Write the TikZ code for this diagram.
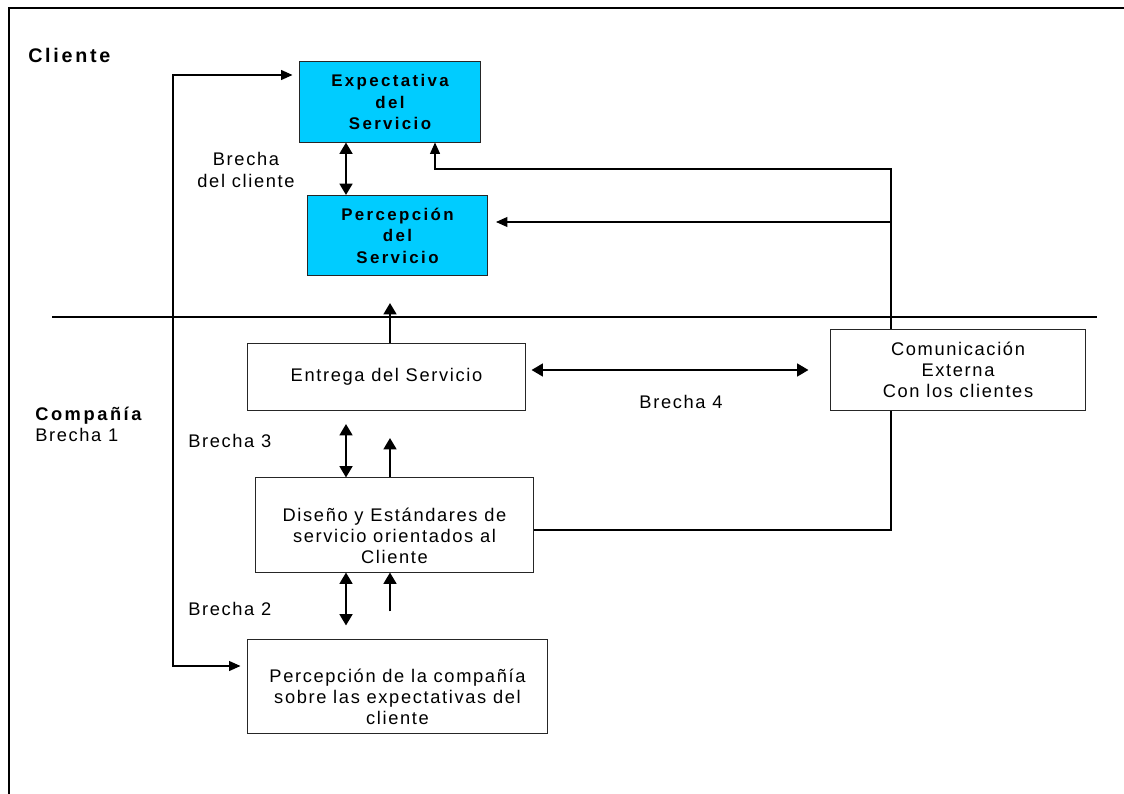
\documentclass[tikz,border=0pt]{standalone}
\usepackage{fontspec}
\setmainfont{Liberation Sans}[LetterSpace=9, BoldFeatures={LetterSpace=14}]
\usetikzlibrary{shapes,arrows.meta,positioning}
\definecolor{servblue}{HTML}{00CCFF}

\begin{document}
\begin{tikzpicture}[
    x=0.025cm, y=-0.025cm,
    box/.style={
        rectangle,
        draw=black!85,
        line width=0.7pt,
        inner sep=0pt,
        align=center,
        font=\fontsize{13}{15}\selectfont
    },
    servbox/.style={
        box,
        fill=servblue,
        minimum width=4.5cm,
        minimum height=2cm,
        font=\fontsize{12}{15.3}\selectfont\bfseries
    },
    lbl/.style={
        inner sep=0pt,
        align=center,
        font=\fontsize{13}{15}\selectfont
    },
    line/.style={line width=0.8pt},
    arr/.style={line width=0.8pt, -{Triangle[length=8pt,width=7pt]}},
    twoarr/.style={line width=0.8pt, {Triangle[length=8pt,width=7pt]}-{Triangle[length=8pt,width=7pt]}},
    dbl/.style={line width=1.6pt, {Triangle[length=8pt,width=9pt]}-{Triangle[length=8pt,width=9pt]}},
    up/.style={line width=1.6pt, -{Triangle[length=8pt,width=9pt]}}
]
    \useasboundingbox (0,0) rectangle (1124,794);

    % Frame and the line between client and company
    \draw[line width=1.4pt] (9,794) -- (9,8) -- (1124,8);
    \draw[line] (52,317) -- (1097,317);

    % Client side boxes
    \node[servbox] (expectativa) at (390,102) {Expectativa\\del\\Servicio};
    \node[servbox] (percepcion) at (397.5,235.5) {Percepción\\del\\Servicio};

    % Company side boxes
    \node[box, minimum width=6.925cm, minimum height=1.675cm] (entrega) at (386.5,377) {Entrega del Servicio};
    \node[box, minimum width=6.35cm, minimum height=2cm] (comunicacion) at (958,370) {Comunicación\\Externa\\Con los clientes};
    \node[box, minimum width=6.925cm, minimum height=2.35cm] (diseno) at (394.5,525) {};
    \node[lbl] (disenotxt) at (394.5,536) {Diseño y Estándares de\\servicio orientados al\\Cliente};
    \node[box, minimum width=7.475cm, minimum height=2.35cm] (pcompania) at (397.5,686) {};
    \node[lbl] (pcompaniatxt) at (397.5,697) {Percepción de la compañía\\sobre las expectativas del\\cliente};

    % Labels
    \node[lbl, anchor=west, font=\fontsize{14}{16}\selectfont\bfseries] (cliente) at (28,55) {Cliente};
    \node[lbl] (brechacliente) at (246,170) {Brecha\\del cliente};
    \node[lbl, anchor=west, align=left] (compania) at (35,424) {\textbf{Compañía}\\Brecha 1};
    \node[lbl, anchor=west] (brecha3) at (188,441) {Brecha 3};
    \node[lbl, anchor=west] (brecha2) at (188,609) {Brecha 2};
    \node[lbl] (brecha4) at (681,402) {Brecha 4};

    % Helper coordinates for the arrow columns and the right-hand line
    \coordinate (colA) at (346,0);
    \coordinate (colB) at (390,0);
    \coordinate (colR) at (891,0);
    \coordinate (loopTop) at (173,75);
    \coordinate (loopBot) at (173,666);
    \coordinate (jTop) at (891,169);
    \coordinate (jMid) at (891,222);

    % Gap 1 loop between expectation and company perception
    \draw[twoarr, shorten <=0.175cm, shorten >=0.175cm] (loopTop -| expectativa.west) -- (loopTop) -- (loopBot) -- (loopBot -| pcompania.west);

    % Client gap
    \draw[dbl] (expectativa.south -| colA) -- (percepcion.north -| colA);

    % External communication feeding the client side
    \draw[arr] (comunicacion.north -| colR) -- (jTop) -| ([xshift=1.125cm]expectativa.south);
    \draw[arr, shorten >=0.2cm] (jMid) -- (jMid -| percepcion.east);
    \draw[line] (comunicacion.south -| colR) |- ([yshift=-0.125cm]diseno.east);

    % Gap 4
    \draw[dbl, shorten <=0.15cm, shorten >=0.55cm] (entrega.east |- comunicacion.west) -- (comunicacion.west);

    % Delivery up to perception
    \draw[up, shorten >=0.675cm] (entrega.north -| colB) -- (percepcion.south -| colB);

    % Gap 3
    \draw[dbl, shorten <=0.325cm] (entrega.south -| colA) -- (diseno.north -| colA);
    \draw[up, shorten >=0.675cm] (diseno.north -| colB) -- (entrega.south -| colB);

    % Gap 2
    \draw[dbl, shorten >=0.325cm] (diseno.south -| colA) -- (pcompania.north -| colA);
    \draw[up, shorten <=0.675cm] (pcompania.north -| colB) -- (diseno.south -| colB);

\end{tikzpicture}
\end{document}
